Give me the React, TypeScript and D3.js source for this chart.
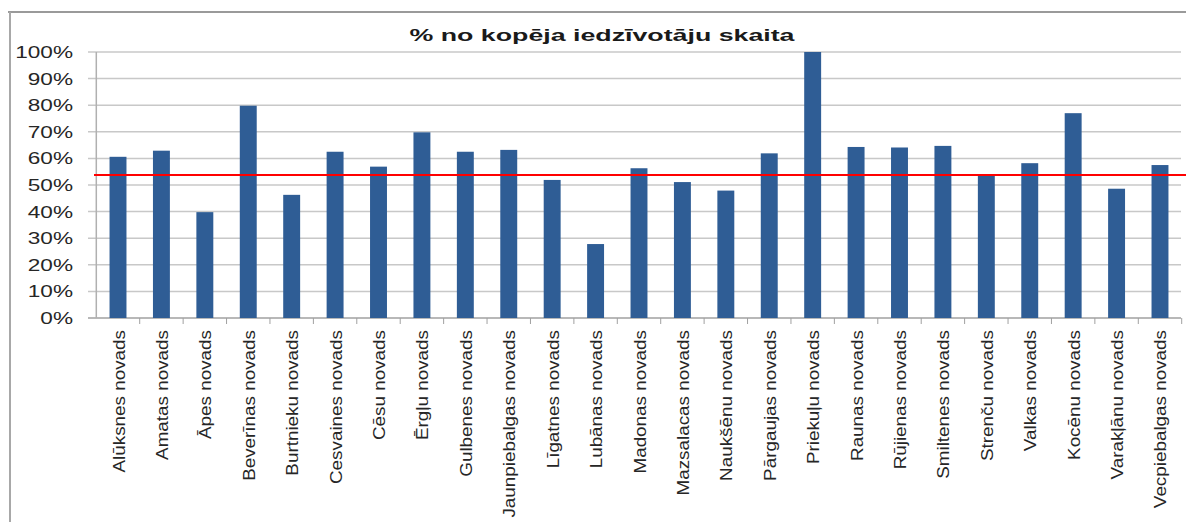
import React from "react";
import * as d3 from "d3";

// Municipalities shown along the category axis
const categories = [
  "Alūksnes novads",
  "Amatas novads",
  "Āpes novads",
  "Beverīnas novads",
  "Burtnieku novads",
  "Cesvaines novads",
  "Cēsu novads",
  "Ērgļu novads",
  "Gulbenes novads",
  "Jaunpiebalgas novads",
  "Līgatnes novads",
  "Lubānas novads",
  "Madonas novads",
  "Mazsalacas novads",
  "Naukšēnu novads",
  "Pārgaujas novads",
  "Priekuļu novads",
  "Raunas novads",
  "Rūjienas novads",
  "Smiltenes novads",
  "Strenču novads",
  "Valkas novads",
  "Kocēnu novads",
  "Varakļānu novads",
  "Vecpiebalgas novads",
];

// Share of the total population, percent
const values = [
  60.6, 62.9, 39.8, 79.8, 46.3, 62.5, 56.9, 69.8, 62.5, 63.2, 51.9, 27.8, 56.3,
  51.1, 47.9, 61.9, 100, 64.3, 64.1, 64.7, 53.5, 58.2, 77.0, 48.6, 57.5,
];

// Reference level drawn as the red horizontal line
const averageLevel = 53.8;

const yTicks = [0, 10, 20, 30, 40, 50, 60, 70, 80, 90, 100];
const yTickLabels = yTicks.map((t) => `${t}%`);

const title = "% no kopēja iedzīvotāju skaita";

const W = 1186;
const H = 522;
const FONT = "'Liberation Sans', Arial, sans-serif";

export default function App() {
  const x = d3
    .scaleBand<string>()
    .domain(categories)
    .range([96.3, 1181.7])
    .padding(0);
  const y = d3.scaleLinear().domain([0, 100]).range([318, 52]);
  const bw = x.bandwidth();
  const barW = bw * 0.39;
  const baseY = y(0);

  return (
    <svg
      width={W}
      height={H}
      style={{ position: "absolute", left: 0, top: 0, background: "#fff" }}
      fontFamily={FONT}
    >
      {/* chart frame */}
      <line x1={8} x2={W} y1={12} y2={12} stroke="#9a9a9a" strokeWidth={2} />
      <line x1={10} x2={10} y1={12} y2={H} stroke="#a8a8a8" strokeWidth={2} />

      {/* title */}
      <text
        x={602}
        y={41}
        textAnchor="middle"
        fontWeight="bold"
        fontSize={17}
        fill="#1a1a1a"
        textLength={385}
        lengthAdjust="spacingAndGlyphs"
      >
        {title}
      </text>

      {/* horizontal gridlines and y labels */}
      {yTicks.map((t, i) => (
        <g key={t}>
          <line
            x1={88}
            x2={1181}
            y1={y(t)}
            y2={y(t)}
            stroke={t === 0 ? "#a0a0a0" : "#c8c8c8"}
            strokeWidth={1.5}
          />
          <text
            transform={`translate(73, ${y(t) + 6}) scale(1.33, 1)`}
            textAnchor="end"
            fontSize={17}
            fill="#262626"
          >
            {yTickLabels[i]}
          </text>
        </g>
      ))}

      {/* value axis line */}
      <line x1={96.3} x2={96.3} y1={y(100)} y2={baseY} stroke="#b0b0b0" strokeWidth={1.5} />

      {/* category tick marks */}
      {categories.map((c) => (
        <line
          key={`tick-${c}`}
          x1={(x(c) as number) + bw}
          x2={(x(c) as number) + bw}
          y1={baseY}
          y2={baseY + 6}
          stroke="#a0a0a0"
          strokeWidth={1}
        />
      ))}

      {/* bars */}
      {categories.map((c, i) => (
        <rect
          key={`bar-${c}`}
          x={(x(c) as number) + (bw - barW) / 2}
          y={y(values[i])}
          width={barW}
          height={baseY - y(values[i])}
          fill="#2f5d95"
        />
      ))}

      {/* reference line */}
      <line
        x1={94}
        x2={W}
        y1={y(averageLevel)}
        y2={y(averageLevel)}
        stroke="#ff0000"
        strokeWidth={2}
      />

      {/* category labels */}
      {categories.map((c) => (
        <text
          key={`lab-${c}`}
          transform={`translate(${(x(c) as number) + bw / 2 + 6.5}, 330) rotate(-90) scale(1.11, 1)`}
          textAnchor="end"
          fontSize={17}
          fill="#262626"
        >
          {c}
        </text>
      ))}
    </svg>
  );
}
